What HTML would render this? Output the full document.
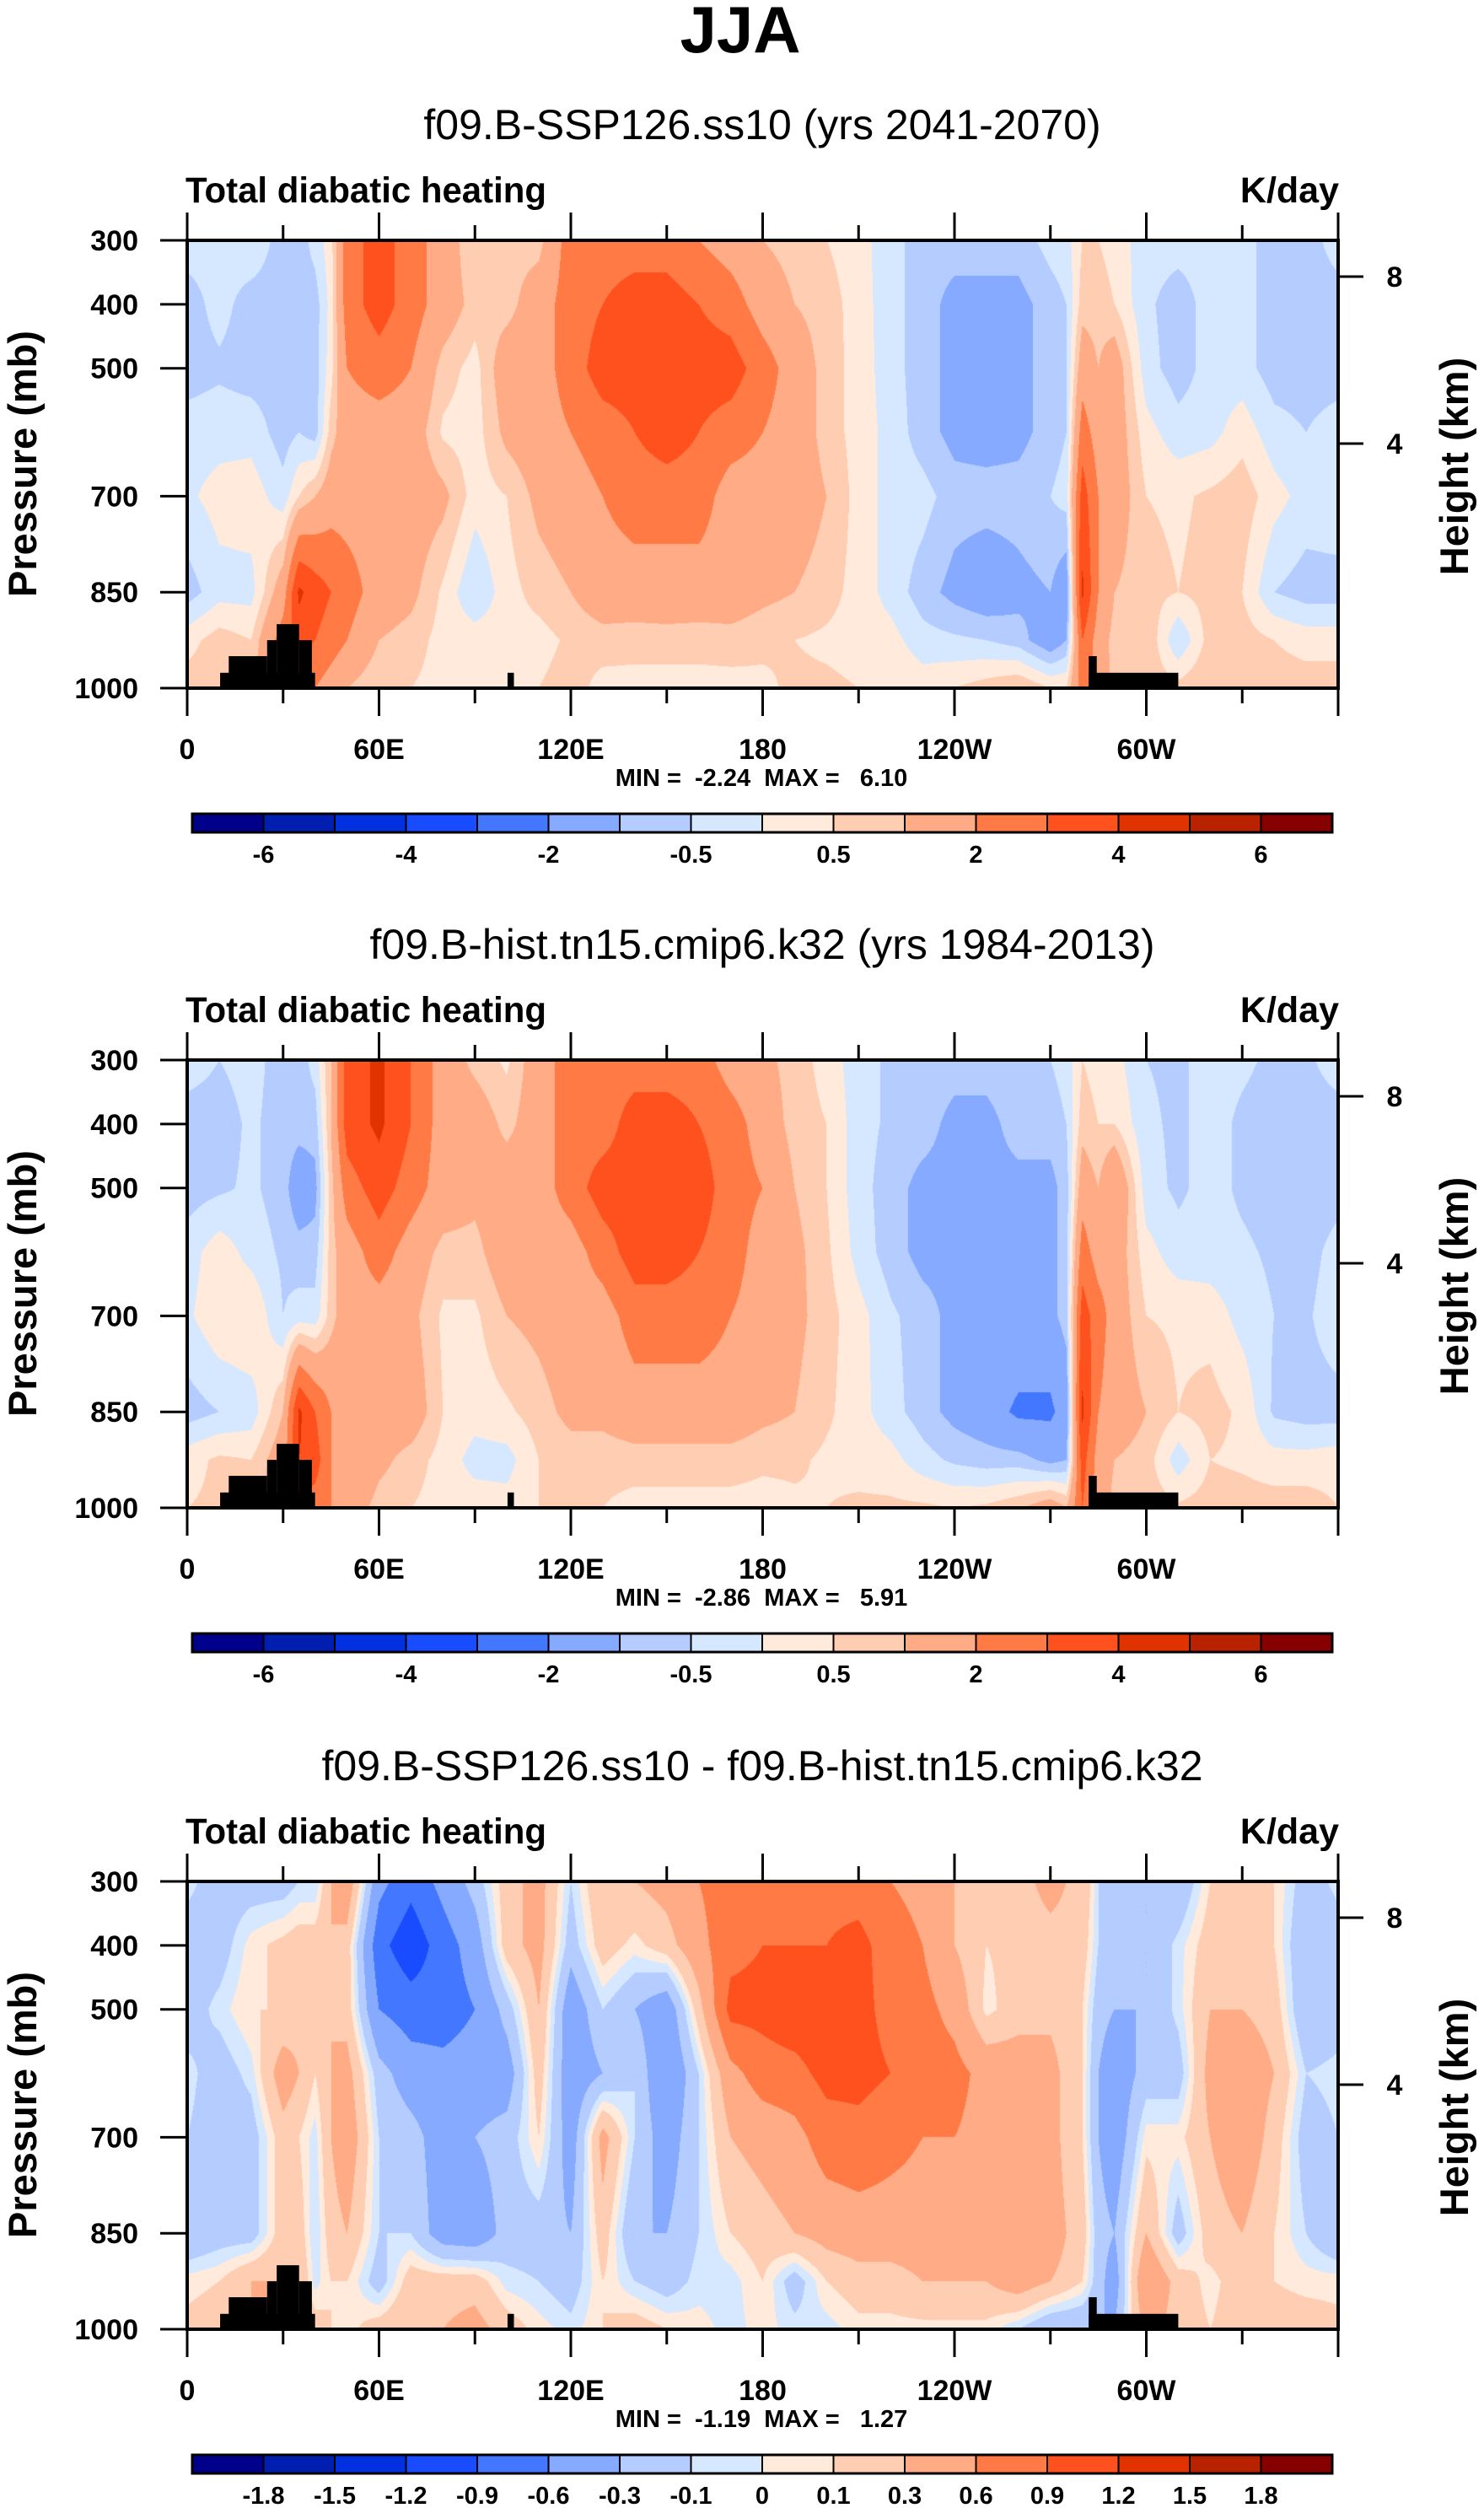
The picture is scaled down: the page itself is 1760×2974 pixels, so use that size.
<!DOCTYPE html>
<html><head><meta charset="utf-8">
<style>
html,body{margin:0;padding:0;background:#fff;}
#wrap{position:relative;width:1760px;height:2974px;overflow:hidden;}
canvas{position:absolute;}
svg{position:absolute;left:0;top:0;}
text{font-family:"Liberation Sans",sans-serif;font-weight:bold;fill:#000;}
</style></head>
<body>
<div id="wrap">
<canvas id="c0" width="1365" height="531" style="left:222px;top:285px"></canvas>
<canvas id="c1" width="1365" height="531" style="left:222px;top:1257px"></canvas>
<canvas id="c2" width="1365" height="531" style="left:222px;top:2231px"></canvas>
<svg id="svg" width="1760" height="2974" xmlns="http://www.w3.org/2000/svg">
<text x="878" y="62" text-anchor="middle" font-size="78">JJA</text>
</svg>
</div>
<script>
const lons = [0,10,20,30,35,40,45,50,60,70,80,90,100,110,120,130,140,150,160,170,180,190,200,210,220,230,240,250,260,270,275,280,285,290,300,310,320,330,340,350];
const levels = [300,400,500,600,700,850,925,1000];
const xTickLabels = ["0","60E","120E","180","120W","60W"];
const yTickValues = [300,400,500,700,850,1000];
const heightTicks = [[8,43],[4,241]];
const colors = ["#00008a","#001fb0","#0030e0","#1a4cff","#4477ff","#85aaff","#b4ccff","#d6e8ff","#ffeadb","#ffcdb2","#ffab85","#ff7a45","#ff511e","#e03300","#b82200","#870000"];
const bounds12 = [-6,-5,-4,-3,-2,-1,-0.5,0,0.5,1,2,3,4,5,6];
const labels12 = ["","-6","","-4","","-2","","-0.5","","0.5","","2","","4","","6"];
const bounds3 = [-1.8,-1.5,-1.2,-0.9,-0.6,-0.3,-0.1,0,0.1,0.3,0.6,0.9,1.2,1.5,1.8];
const labels3 = ["-1.8","-1.5","-1.2","-0.9","-0.6","-0.3","-0.1","0","0.1","0.3","0.6","0.9","1.2","1.5","1.8"];
const landRects = [[10.3,40,976],[13,25,950],[25,28,925],[28,35,900],[35,39,925],[100.2,102.2,976],[282,284.5,950],[282,310,976]];
const titles = ["f09.B-SSP126.ss10 (yrs 2041-2070)","f09.B-hist.tn15.cmip6.k32 (yrs 1984-2013)","f09.B-SSP126.ss10 - f09.B-hist.tn15.cmip6.k32"];
const minmax = ["MIN =  -2.24  MAX =   6.10","MIN =  -2.86  MAX =   5.91","MIN =  -1.19  MAX =   1.27"];
const future = [
[-0.25,-0.75,-0.75,-0.25,-0.1,-0.75,0.3,0.75],
[-0.3,-0.3,-0.6,-0.2,0.2,-0.2,0.75,0.8],
[-0.1,-0.75,-0.75,-0.2,0.3,-0.2,0.5,1.0],
[-0.75,-0.75,-0.75,-0.75,-0.3,1.5,2.5,2.0],
[-0.75,-0.75,-0.75,-0.5,0.5,4.2,3.5,2.0],
[-0.3,-0.75,-0.75,-0.75,1.0,3.5,3.0,2.0],
[0.3,0.2,0.3,0.75,1.5,3.0,2.5,1.5],
[2.5,2.5,2.0,1.5,1.5,2.5,2.0,1.0],
[3.5,3.5,2.5,1.5,1.5,1.5,1.0,0.5],
[2.5,2.5,2.0,1.5,1.5,1.2,0.75,0.5],
[1.5,1.5,0.75,0.4,1.2,0.4,0.3,0.3],
[0.5,0.75,0.3,0.25,0.25,-0.5,0.3,0.3],
[0.75,0.75,1.5,1.2,0.5,0.3,0.3,0.2],
[0.75,1.5,1.5,1.5,1.2,0.7,0.3,0.5],
[2.5,2.5,2.5,2.0,1.5,1.0,0.6,0.75],
[2.5,3.0,3.5,2.5,2.0,1.5,0.75,0.3],
[2.5,3.5,3.5,3.0,2.5,1.5,0.7,0.3],
[2.5,3.5,3.8,3.5,2.5,1.5,0.75,0.25],
[2.0,3.0,3.5,3.0,2.5,1.5,0.7,0.3],
[1.5,2.5,3.5,2.5,1.5,1.5,0.75,0.3],
[1.0,1.5,2.5,2.0,1.5,1.2,0.6,0.4],
[0.75,1.0,1.5,1.5,1.5,1.0,0.5,0.6],
[0.5,0.75,0.75,0.75,1.0,0.7,0.4,0.6],
[0.2,0.25,0.3,0.3,0.3,0.3,0.3,0.5],
[-0.3,-0.3,-0.3,-0.2,-0.2,-0.2,0.2,0.5],
[-0.75,-0.75,-0.75,-0.75,-0.3,-0.75,-0.3,0.3],
[-0.75,-1.2,-1.2,-1.2,-0.75,-1.2,-0.4,0.5],
[-0.75,-1.2,-1.2,-1.3,-0.75,-1.5,-0.5,0.75],
[-0.75,-1.2,-1.2,-1.2,-0.75,-1.2,-0.75,1.0],
[-0.3,-0.75,-0.75,-0.75,-0.5,-1.0,-1.5,0.5],
[-0.2,-0.5,-0.5,-0.5,-0.3,-1.5,-1.0,0.5],
[0.5,0.75,1.5,2.5,3.5,4.2,3.0,2.5],
[0.5,0.75,1.0,1.5,2.0,2.0,1.5,1.5],
[0.3,0.5,1.5,1.5,1.5,1.0,0.75,0.8],
[-0.3,-0.4,-0.3,0.2,0.5,0.7,1.0,0.8],
[-0.3,-0.75,-0.75,-0.3,0.4,0.5,-0.5,0.7],
[-0.3,-0.3,-0.3,-0.2,0.6,0.7,0.75,1.0],
[-0.3,-0.3,-0.3,0.3,0.8,0.5,0.75,1.0],
[-0.75,-0.75,-0.75,-0.3,0.2,-0.5,0.5,0.75],
[-0.75,-0.75,-0.75,-0.5,-0.2,-0.75,0.3,0.75]];
const hist = [
[-0.25,-0.75,-0.75,-0.25,-0.1,-0.75,0.3,0.5],
[-0.5,-0.75,-0.6,0.3,0.4,-0.5,0.6,0.6],
[-0.3,-0.4,-0.4,-0.2,0.5,-0.3,0.5,0.6],
[-0.75,-0.75,-0.75,-0.6,-0.5,1.0,1.5,1.5],
[-0.75,-0.75,-1.5,-0.75,-0.3,4.2,4.0,2.5],
[-0.3,-0.75,-1.2,-0.75,-0.3,3.0,3.5,2.5],
[1.0,1.0,0.75,0.75,0.75,2.0,2.0,2.0],
[3.5,3.5,2.5,1.5,1.5,1.5,2.0,1.5],
[4.2,4.2,3.5,2.5,1.5,1.5,1.2,0.75],
[3.0,3.0,2.5,1.5,1.2,1.5,0.75,0.5],
[1.5,1.5,1.5,0.8,0.4,0.5,0.3,0.3],
[0.8,1.5,1.2,0.8,0.4,0.2,-0.2,0.3],
[0.4,0.8,1.5,1.5,1.0,0.4,-0.2,0.2],
[1.5,1.5,1.5,1.5,1.2,0.75,0.5,0.5],
[2.5,2.5,2.5,1.5,1.5,1.2,0.7,0.7],
[2.5,2.5,3.5,2.5,1.5,1.2,0.7,0.5],
[2.5,3.5,3.5,3.5,2.5,1.5,0.75,0.3],
[2.5,3.5,4.0,3.5,2.5,1.5,0.75,0.3],
[2.5,3.0,3.5,3.0,2.5,1.5,0.75,0.3],
[1.5,2.5,2.5,2.5,2.0,1.5,0.75,0.3],
[1.2,1.5,2.0,1.5,1.5,1.2,0.6,0.3],
[0.75,0.75,1.0,1.2,1.2,1.0,0.6,0.4],
[0.3,0.5,0.5,0.6,0.7,0.6,0.4,0.5],
[-0.3,-0.3,-0.3,-0.2,0.2,0.2,0.3,0.6],
[-0.6,-0.6,-0.75,-0.75,-0.4,-0.3,0.2,0.6],
[-0.6,-0.75,-1.2,-1.2,-0.75,-0.75,-0.3,0.6],
[-0.75,-1.2,-1.2,-1.2,-1.2,-1.2,-0.6,0.5],
[-0.75,-1.2,-1.2,-1.2,-1.2,-1.5,-0.75,0.6],
[-0.6,-0.75,-1.2,-1.2,-1.2,-2.2,-0.75,0.9],
[-0.5,-0.75,-1.2,-1.2,-1.2,-2.2,-1.2,1.5],
[-0.3,-0.5,-0.75,-0.75,-0.75,-1.5,-1.0,1.0],
[0.5,0.75,1.5,2.5,3.5,4.2,3.5,3.0],
[0.3,0.5,1.0,1.5,2.5,2.0,1.5,1.5],
[0.2,0.5,2.0,1.5,1.5,1.5,1.0,0.8],
[-0.5,-0.4,-0.3,0.2,0.5,1.0,0.75,0.8],
[-0.6,-0.6,-0.6,-0.3,0.4,0.5,-0.3,0.6],
[-0.3,-0.3,-0.3,-0.3,0.3,0.7,0.5,0.75],
[-0.4,-0.6,-0.6,-0.4,-0.2,0.4,0.4,0.75],
[-0.6,-0.75,-0.75,-0.6,-0.5,-0.6,0.2,0.75],
[-0.6,-0.75,-0.9,-0.75,-0.6,-0.75,0.2,0.75]];
const diff = [
[-0.05,-0.2,-0.2,-0.05,-0.1,-0.3,0.05,0.15],
[-0.2,-0.2,-0.05,-0.2,-0.2,-0.2,0.1,0.2],
[-0.2,0.05,0.1,-0.05,-0.2,-0.2,0.3,0.3],
[-0.2,0.15,0.1,0.45,0.2,0.2,0.3,0.3],
[-0.1,0.2,0.2,0.3,0.1,0.2,0.3,0.3],
[-0.1,0.2,0.3,0.1,-0.05,-0.1,-0.05,0.2],
[0.3,0.3,0.3,0.3,0.3,0.2,0.1,0.1],
[0.5,0.2,0.2,0.4,0.5,0.3,0.1,0.05],
[-0.5,-0.8,-0.6,-0.2,-0.1,-0.1,-0.2,0.2],
[-0.8,-1.1,-0.75,-0.45,-0.2,-0.1,0.2,0.3],
[-0.5,-0.75,-0.75,-0.5,-0.45,-0.45,0.2,0.3],
[-0.2,-0.45,-0.6,-0.45,-0.3,-0.5,0.2,0.4],
[0.2,0.2,-0.2,-0.45,-0.2,-0.2,-0.05,0.2],
[0.4,0.4,0.3,0.2,0.1,-0.2,-0.1,0.05],
[-0.1,-0.2,-0.5,-0.5,-0.45,-0.3,-0.2,-0.05],
[0.3,0.2,-0.1,-0.3,0.4,0.2,0.1,0.1],
[0.3,0.05,-0.3,-0.1,-0.1,-0.3,-0.1,0.2],
[0.4,0.2,-0.5,-0.6,-0.45,-0.3,-0.2,0.1],
[0.6,0.5,0.2,-0.1,-0.1,-0.1,-0.05,0.05],
[0.75,0.8,1.0,0.5,0.3,0.1,-0.05,-0.05],
[0.8,0.9,1.0,0.75,0.4,0.2,0.1,0.05],
[0.75,0.9,1.1,0.8,0.5,0.3,-0.2,-0.05],
[0.8,0.9,1.1,1.0,0.75,0.4,0.1,-0.05],
[0.75,1.0,1.0,1.0,0.8,0.45,0.2,0.05],
[0.6,0.75,0.8,0.9,0.7,0.45,0.2,0.05],
[0.5,0.6,0.7,0.75,0.6,0.45,0.3,0.05],
[0.3,0.3,0.5,0.7,0.6,0.45,0.3,0.05],
[0.2,0.1,0.05,0.5,0.5,0.45,0.3,0.05],
[0.2,0.15,0.2,0.45,0.5,0.6,0.45,-0.1],
[0.4,0.2,0.2,0.45,0.45,0.5,0.3,-0.3],
[0.3,0.2,0.1,0.2,0.2,0.3,0.2,-0.3],
[0.3,0.2,0.1,0.1,0.1,0.2,0.1,-0.3],
[-0.1,-0.1,-0.2,-0.3,-0.3,-0.2,-0.2,-0.3],
[-0.2,-0.2,-0.3,-0.5,-0.5,-0.3,-0.45,-0.3],
[-0.3,-0.3,-0.3,-0.2,0.05,0.3,0.6,0.4],
[-0.3,-0.05,-0.05,-0.2,0.05,-0.2,0.2,0.2],
[0.1,0.2,0.3,0.4,0.3,0.2,0.05,0.1],
[0.2,0.3,0.3,0.5,0.5,0.3,0.2,0.2],
[0.1,0.1,0.2,0.3,0.2,0.1,0.1,0.2],
[-0.2,-0.3,-0.3,-0.1,-0.2,-0.1,0.05,0.2]];

const fields = [future, hist, diff];
const boundSets = [bounds12, bounds12, bounds3];
const labelSets = [labels12, labels12, labels3];
const names = ["future","hist","diff"];
const PL = 222, PR = 1587, PT = 285, PH = 531, OFF = [0, 972, 1946];
const PW = PR - PL;
const xScale = lon => PL + lon / 360 * PW;
const yScale = (p, off) => PT + off + (p - 300) / 700 * PH;
const NS = "http://www.w3.org/2000/svg";
const svg = document.getElementById('svg');
function mk(tag, attrs, parent) {
  const e = document.createElementNS(NS, tag);
  for (const k in attrs) e.setAttribute(k, attrs[k]);
  (parent || svg).appendChild(e);
  return e;
}
const N = lons.length;
function sample(field, lon, p) {
  let i = 0; while (i < N - 1 && lon >= lons[i + 1]) i++;
  const l0 = lons[i], l1 = (i + 1 < N) ? lons[i + 1] : 360;
  const i1 = (i + 1) % N;
  const t = (lon - l0) / (l1 - l0);
  let j = 0; while (j < levels.length - 2 && p > levels[j + 1]) j++;
  let u = (p - levels[j]) / (levels[j + 1] - levels[j]); u = Math.max(0, Math.min(1, u));
  const a = field[i][j] * (1 - u) + field[i][j + 1] * u;
  const b = field[i1][j] * (1 - u) + field[i1][j + 1] * u;
  return a * (1 - t) + b * t;
}
const rgb = colors.map(c => [parseInt(c.substr(1,2),16), parseInt(c.substr(3,2),16), parseInt(c.substr(5,2),16)]);
for (let k = 0; k < 3; k++) {
  const cv = document.getElementById('c' + k);
  const ctx = cv.getContext('2d');
  const img = ctx.createImageData(PW, PH);
  const b = boundSets[k];
  for (let y = 0; y < PH; y++) {
    const p = 300 + (y + 0.5) / PH * 700;
    for (let x = 0; x < PW; x++) {
      const lon = (x + 0.5) / PW * 360;
      const v = sample(fields[k], lon, p);
      let ci = 0; while (ci < b.length && v >= b[ci]) ci++;
      const c = rgb[ci]; const o = (y * PW + x) * 4;
      img.data[o] = c[0]; img.data[o+1] = c[1]; img.data[o+2] = c[2]; img.data[o+3] = 255;
    }
  }
  ctx.putImageData(img, 0, 0);

  const off = OFF[k];
  const g = mk('g', {});
  
  
  const tt = mk('text', {x: 904, y: 148 + off + 17, 'text-anchor': 'middle', 'font-size': 50, style: 'font-weight:normal'}, g);
  tt.textContent = titles[k];
  
  
  const lt = mk('text', {x: 220, y: 240 + off, 'font-size': 43, textLength: 428, lengthAdjust: 'spacingAndGlyphs'}, g);
  lt.textContent = 'Total diabatic heating';
  
  
  const ut = mk('text', {x: 1588, y: 240 + off, 'font-size': 43, 'text-anchor': 'end'}, g);
  ut.textContent = 'K/day';
  
  
  for (const r of landRects) {
    const lr = mk('rect', {x: xScale(r[0]), y: yScale(r[2], off), width: xScale(r[1]) - xScale(r[0]), height: yScale(1000, off) - yScale(r[2], off), fill: '#000'}, g);
    
    
  }
  const fr = mk('rect', {x: PL, y: PT + off, width: PW, height: PH, fill: 'none', stroke: '#000', 'stroke-width': 4}, g);
  
  
  for (let lon = 0; lon <= 360; lon += 30) {
    const x = xScale(lon), major = lon % 60 === 0, len = major ? 33 : 18;
    mk('line', {x1: x, x2: x, y1: PT + off, y2: PT + off - len, stroke: '#000', 'stroke-width': 3}, g);
    mk('line', {x1: x, x2: x, y1: PT + off + PH, y2: PT + off + PH + len, stroke: '#000', 'stroke-width': 3}, g);
    if (major && lon < 360) {
      const xl = mk('text', {x: x, y: 900 + off, 'font-size': 34, 'text-anchor': 'middle'}, g);
      xl.textContent = xTickLabels[lon / 60];
      
      
    }
  }
  for (const p of yTickValues) {
    const y = yScale(p, off);
    mk('line', {x1: PL, x2: PL - 32, y1: y, y2: y, stroke: '#000', 'stroke-width': 3}, g);
    const yl = mk('text', {x: 164, y: y + 12, 'font-size': 34, 'text-anchor': 'end'}, g);
    yl.textContent = String(p);
    
    
  }
  for (const h of heightTicks) {
    const y = PT + off + h[1];
    mk('line', {x1: PR, x2: PR + 30, y1: y, y2: y, stroke: '#000', 'stroke-width': 3}, g);
    const hl = mk('text', {x: 1654, y: y + 12, 'font-size': 34, 'text-anchor': 'middle'}, g);
    hl.textContent = String(h[0]);
    
    
  }
  const ya = mk('text', {x: 0, y: 0, 'font-size': 47, 'text-anchor': 'middle', transform: `translate(43,${550 + off}) rotate(-90)`}, g);
  ya.textContent = 'Pressure (mb)';
  
  
  const ha = mk('text', {x: 0, y: 0, 'font-size': 47, 'text-anchor': 'middle', transform: `translate(1741,${553 + off}) rotate(-90)`}, g);
  ha.textContent = 'Height (km)';
  
  
  const mm = mk('text', {x: 903, y: 932 + off, 'font-size': 29, 'text-anchor': 'middle', style: 'white-space:pre'}, g);
  mm.textContent = minmax[k];
  
  
  const cbL = 228, cbR = 1580, cbT = 965 + off, cbH = 22, bw = (cbR - cbL) / 16;
  for (let i = 0; i < 16; i++) {
    const cr = mk('rect', {x: cbL + i * bw, y: cbT, width: bw, height: cbH, fill: colors[i], stroke: '#000', 'stroke-width': 2}, g);
    
    
  }
  mk('rect', {x: cbL, y: cbT, width: cbR - cbL, height: cbH, fill: 'none', stroke: '#000', 'stroke-width': 3}, g);
  const labs = labelSets[k];
  for (let i = 0; i < 15; i++) {
    const s = (k < 2) ? labs[i + 1] : labs[i];
    if (!s) continue;
    const cl = mk('text', {x: cbL + (i + 1) * bw, y: 1023 + off, 'font-size': 29, 'text-anchor': 'middle'}, g);
    cl.textContent = s;
    
    
  }
}
</script>
</body></html>
